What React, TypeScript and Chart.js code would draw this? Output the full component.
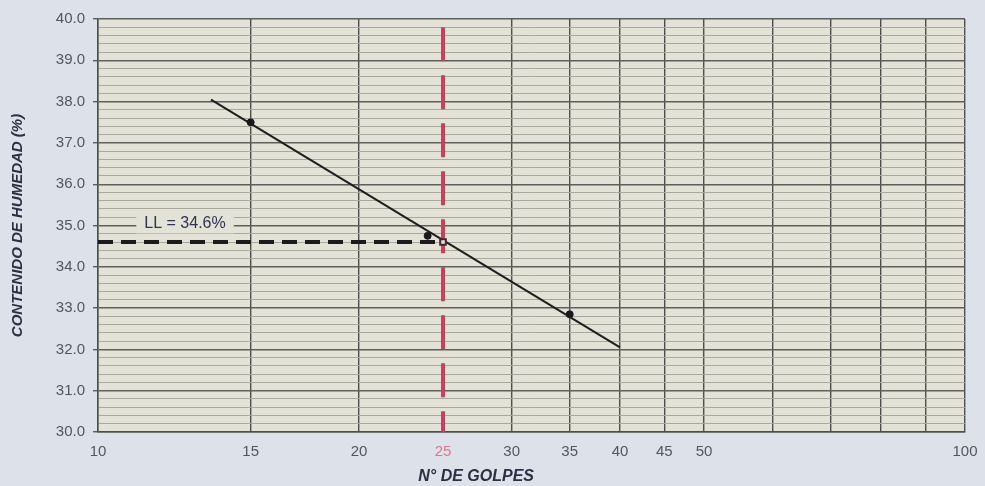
import { useEffect, useRef } from 'react';
import { Chart, registerables } from 'chart.js';

Chart.register(...registerables);

// Ensayo de límite líquido (Casagrande)
const golpes = [15, 24, 35];
const humedad = [37.5, 34.75, 32.85];

// Recta de flujo (extremos)
const rectaGolpes = [13.5, 40];
const rectaHumedad = [38.05, 32.05];

const limiteLiquido = 34.6;
const golpesLL = 25;
const lineaRojaTope = 39.8;

const xTicks = [10, 15, 20, 25, 30, 35, 40, 45, 50, 60, 70, 80, 90, 100];
const xTickLabels = [10, 15, 20, 25, 30, 35, 40, 45, 50, 100];
const yMajorTicks = [30, 31, 32, 33, 34, 35, 36, 37, 38, 39, 40];
const yMinorStep = 0.2;

const PAGE_BG = '#dde1ea';
const PLOT_BG = '#e3e2d6';

const isMajorY = (v: number) => yMajorTicks.some((m) => Math.abs(m - v) < 1e-6);

const decorPlugin = {
  id: 'decor',
  beforeDraw(chart: any) {
    const { ctx, chartArea } = chart;
    ctx.save();
    ctx.fillStyle = PAGE_BG;
    ctx.fillRect(0, 0, chart.width, chart.height);
    ctx.fillStyle = PLOT_BG;
    ctx.fillRect(chartArea.left, chartArea.top, chartArea.right - chartArea.left, chartArea.bottom - chartArea.top);
    ctx.restore();
  },
  afterDatasetsDraw(chart: any) {
    const { ctx } = chart;
    const xs = chart.scales.x;
    const ys = chart.scales.y;
    ctx.save();
    // Etiqueta del límite líquido
    const lx = xs.getPixelForValue(12.6);
    const ly = ys.getPixelForValue(35.05);
    ctx.font = '16px "Liberation Sans", Arial, sans-serif';
    const label = `LL = ${limiteLiquido}%`;
    const w = ctx.measureText(label).width;
    ctx.fillStyle = PLOT_BG;
    ctx.fillRect(lx - w / 2 - 8, ly - 10, w + 16, 20);
    ctx.fillStyle = '#2f3450';
    ctx.textAlign = 'center';
    ctx.textBaseline = 'middle';
    ctx.fillText(label, lx, ly);

    // Títulos de ejes
    ctx.fillStyle = '#2a3042';
    ctx.font = 'italic bold 16px "Liberation Sans", Arial, sans-serif';
    ctx.fillText('N° DE GOLPES', xs.getPixelForValue(27.3), 477);

    ctx.translate(18, (ys.top + ys.bottom) / 2);
    ctx.rotate(-Math.PI / 2);
    ctx.font = 'italic bold 15px "Liberation Sans", Arial, sans-serif';
    ctx.fillText('CONTENIDO DE HUMEDAD (%)', 0, 0);
    ctx.restore();
  },
};

export default function App() {
  const canvasRef = useRef<HTMLCanvasElement | null>(null);

  useEffect(() => {
    if (!canvasRef.current) return;
    const chart = new Chart(canvasRef.current, {
      type: 'scatter',
      data: {
        datasets: [
          {
            label: 'Punto LL',
            data: [{ x: golpesLL, y: limiteLiquido }],
            pointStyle: 'rect',
            pointRadius: 4,
            pointBorderWidth: 2,
            pointBorderColor: '#4a2430',
            pointBackgroundColor: PLOT_BG,
            showLine: false,
            order: 0,
          },
          {
            label: 'Ensayos',
            data: golpes.map((g, i) => ({ x: g, y: humedad[i] })),
            pointRadius: 3.5,
            pointBackgroundColor: '#1a1a1a',
            pointBorderColor: '#1a1a1a',
            showLine: false,
            order: 1,
          },
          {
            label: 'Recta de flujo',
            data: rectaGolpes.map((g, i) => ({ x: g, y: rectaHumedad[i] })),
            showLine: true,
            borderColor: '#1e1e1e',
            borderWidth: 2,
            pointRadius: 0,
            order: 2,
          },
          {
            label: 'LL horizontal',
            data: [
              { x: 10, y: limiteLiquido },
              { x: golpesLL, y: limiteLiquido },
            ],
            showLine: true,
            borderColor: '#1b1b1b',
            borderWidth: 4,
            borderDash: [15, 8],
            pointRadius: 0,
            order: 3,
          },
          {
            label: '25 golpes',
            data: [
              { x: golpesLL, y: lineaRojaTope },
              { x: golpesLL, y: 30 },
            ],
            showLine: true,
            borderColor: '#c8405e',
            borderWidth: 4,
            borderDash: [34, 14],
            pointRadius: 0,
            order: 4,
          },
        ],
      },
      options: {
        animation: false,
        responsive: false,
        maintainAspectRatio: false,
        layout: { padding: { left: 0, top: 19, right: 20, bottom: 0 } },
        plugins: {
          legend: { display: false },
          tooltip: { enabled: false },
        },
        scales: {
          x: {
            type: 'logarithmic',
            min: 10,
            max: 100,
            afterBuildTicks: (scale: any) => {
              scale.ticks = xTicks.map((v) => ({ value: v }));
            },
            afterFit: (scale: any) => {
              scale.height = 54;
            },
            ticks: {
              autoSkip: false,
              maxRotation: 0,
              padding: 6,
              font: { size: 15, family: '"Liberation Sans", Arial, sans-serif' },
              color: (ctx: any) => (ctx.tick && ctx.tick.value === golpesLL ? '#d9788e' : '#52575e'),
              callback: (v: any) => (xTickLabels.includes(Number(v)) ? String(v) : ''),
            },
            grid: {
              color: (ctx: any) => (ctx.tick && ctx.tick.value === golpesLL ? 'rgba(0,0,0,0)' : '#4e4e4c'),
              lineWidth: 1.4,
              tickLength: 5,
              tickColor: 'rgba(0,0,0,0)',
            },
            border: { display: true, color: '#4e4e4c', width: 1.5 },
          },
          y: {
            type: 'linear',
            min: 30,
            max: 40,
            afterBuildTicks: (scale: any) => {
              const t: { value: number }[] = [];
              for (let v = 30; v <= 40 + 1e-9; v += yMinorStep) t.push({ value: Math.round(v * 10) / 10 });
              scale.ticks = t;
            },
            afterFit: (scale: any) => {
              scale.width = 98;
            },
            ticks: {
              autoSkip: false,
              padding: 8,
              font: { size: 15, family: '"Liberation Sans", Arial, sans-serif' },
              color: '#52575e',
              callback: (v: any) => (isMajorY(Number(v)) ? Number(v).toFixed(1) : ''),
            },
            grid: {
              color: (ctx: any) => (ctx.tick && isMajorY(ctx.tick.value) ? '#5e5e5a' : '#a9a89e'),
              lineWidth: (ctx: any) => (ctx.tick && isMajorY(ctx.tick.value) ? 1.4 : 1),
              tickLength: 5,
              tickColor: (ctx: any) => (ctx.tick && isMajorY(ctx.tick.value) ? '#5e5e5a' : 'rgba(0,0,0,0)'),
            },
            border: { display: true, color: '#4e4e4c', width: 1.5 },
          },
        },
      },
      plugins: [decorPlugin],
    });
    return () => chart.destroy();
  }, []);

  return (
    <div style={{ position: 'absolute', left: 0, top: 0, width: 985, height: 486, background: PAGE_BG }}>
      <canvas ref={canvasRef} width={985} height={486} style={{ display: 'block' }} />
    </div>
  );
}
